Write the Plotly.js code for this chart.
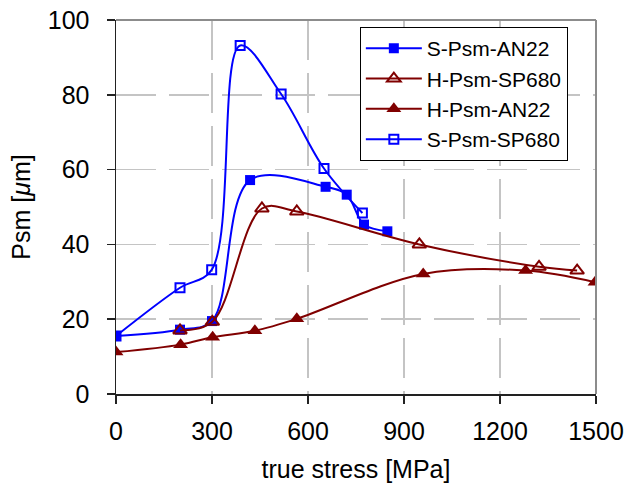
<!DOCTYPE html>
<html>
<head>
<meta charset="utf-8">
<script src="https://cdn.plot.ly/plotly-3.0.1.min.js"></script>
<style>html,body{margin:0;padding:0;background:#fff;}#chart{width:627px;height:488px;}</style>
</head>
<body>
<div id="chart"></div>
<script>
// Data
const sAN22_x = [0, 200, 300, 419, 655, 721, 775, 848];
const sAN22_y = [15.5, 17.2, 19.5, 57.2, 55.4, 53.3, 45.3, 43.5];

const hSP680_x = [200, 301, 456, 565, 948, 1322, 1441];
const hSP680_y = [17.0, 19.3, 49.6, 48.8, 40.0, 34.0, 33.0];

const hAN22_x = [0, 202, 302, 434, 565, 960, 1280, 1497];
const hAN22_y = [11.2, 13.2, 15.2, 16.9, 20.1, 32.1, 33.0, 29.9];

const sSP680_x = [0, 200, 299, 388, 516, 650, 770];
const sSP680_y = [15.5, 28.4, 33.2, 93.2, 80.2, 60.3, 48.4];

const xTicks = [0, 300, 600, 900, 1200, 1500];
const yTicks = [0, 20, 40, 60, 80, 100];

const blue = '#0000ff';
const red = '#800000';
const font = 'Liberation Sans, Arial, sans-serif';

const traces = [
  {x: sAN22_x, y: sAN22_y, name: 'S-Psm-AN22', mode: 'lines+markers',
   line: {color: blue, width: 2, shape: 'spline', smoothing: 1},
   marker: {symbol: 'square', size: 10, color: blue}},
  {x: hSP680_x, y: hSP680_y, name: 'H-Psm-SP680', mode: 'lines+markers',
   line: {color: red, width: 2, shape: 'spline', smoothing: 1},
   marker: {symbol: 'triangle-up-open', size: 12, color: red, line: {width: 2, color: red}}},
  {x: hAN22_x, y: hAN22_y, name: 'H-Psm-AN22', mode: 'lines+markers',
   line: {color: red, width: 2, shape: 'spline', smoothing: 1},
   marker: {symbol: 'triangle-up', size: 13, color: red}},
  {x: sSP680_x, y: sSP680_y, name: 'S-Psm-SP680', mode: 'lines+markers',
   line: {color: blue, width: 2, shape: 'spline', smoothing: 1},
   marker: {symbol: 'square-open', size: 9, color: blue, line: {width: 2, color: blue}}}
];

const layout = {
  width: 627, height: 488,
  margin: {l: 116, r: 31, t: 20, b: 94},
  paper_bgcolor: '#fff', plot_bgcolor: '#fff',
  font: {family: font, color: '#000', size: 24},
  showlegend: true,
  legend: {x: 0.508, y: 0.981, xanchor: 'left', yanchor: 'top',
    bgcolor: '#fff', bordercolor: '#000', borderwidth: 1,
    font: {family: font, size: 21, color: '#000'}, itemwidth: 56},
  xaxis: {
    range: [0, 1500], tickvals: xTicks, ticktext: xTicks.map(String),
    showline: true, linecolor: '#222', linewidth: 1.5,
    ticks: 'outside', ticklen: 8, tickcolor: '#222', tickwidth: 1.5,
    showgrid: true, gridcolor: '#c4c4c4', gridwidth: 1.5, griddash: '40px,13px',
    zeroline: false, tickfont: {size: 25}, ticklabelstandoff: 6,
    title: {text: 'true stress [MPa]', font: {size: 25}, standoff: 17},
    automargin: false
  },
  yaxis: {
    range: [0, 100], tickvals: yTicks, ticktext: yTicks.map(String),
    showline: true, linecolor: '#222', linewidth: 1.5,
    ticks: 'outside', ticklen: 8, tickcolor: '#222', tickwidth: 1.5,
    showgrid: true, gridcolor: '#c4c4c4', gridwidth: 1.5, griddash: '40px,13px',
    zeroline: false, tickfont: {size: 25}, ticklabelstandoff: 12,
    title: {text: 'Psm [<i>μ</i>m]', font: {size: 25}, standoff: 10},
    automargin: false
  },
  shapes: [
    {type: 'line', xref: 'paper', yref: 'paper', x0: 0, x1: 1, y0: 1, y1: 1, line: {color: '#8c8c8c', width: 2}},
    {type: 'line', xref: 'paper', yref: 'paper', x0: 1, x1: 1, y0: 0, y1: 1, line: {color: '#8c8c8c', width: 2}}
  ]
};

Plotly.newPlot('chart', traces, layout, {displayModeBar: false, staticPlot: true});
</script>
</body>
</html>
